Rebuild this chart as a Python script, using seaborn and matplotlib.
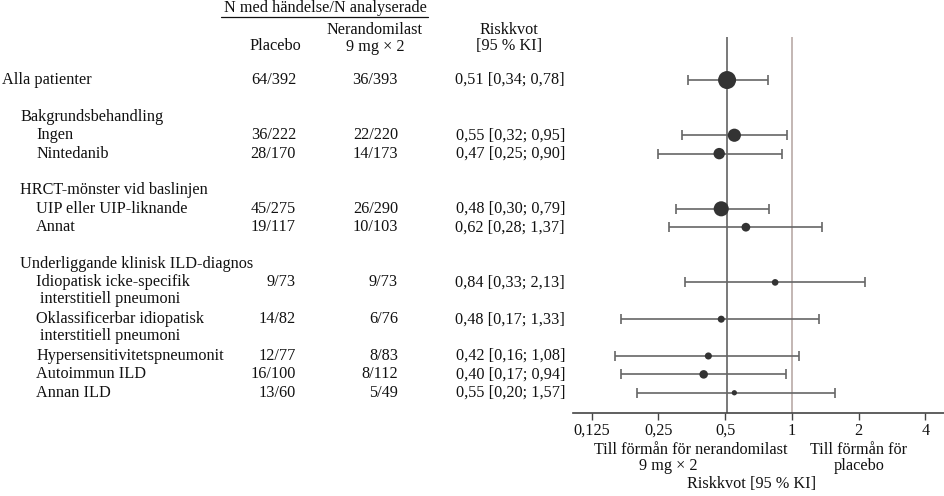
import numpy as np
import pandas as pd
import seaborn as sns
import matplotlib.pyplot as plt
from matplotlib.lines import Line2D
from matplotlib.transforms import blended_transform_factory

# rows of the forest plot (row index = vertical slot, top to bottom)
labels = ["Alla patienter",
          "Bakgrundsbehandling", "Ingen", "Nintedanib",
          "HRCT-mönster vid baslinjen", "UIP eller UIP-liknande", "Annat",
          "Underliggande klinisk ILD-diagnos",
          "Idiopatisk icke-specifik", "Oklassificerbar idiopatisk",
          "Hypersensitivitetspneumonit", "Autoimmun ILD", "Annan ILD"]
label_rows = [0, 2, 3, 4, 6, 7, 8, 10, 11, 13, 15, 16, 17]
label_level = [0, 1, 2, 2, 1, 2, 2, 1, 2, 2, 2, 2, 2]
cont_labels = ["interstitiell pneumoni", "interstitiell pneumoni"]
cont_rows = [11.88, 13.9]

est_rows = [0, 3, 4, 7, 8, 11, 13, 15, 16, 17]
placebo = ["64/392", "36/222", "28/170", "45/275", "19/117",
           "9/73", "14/82", "12/77", "16/100", "13/60"]
neran = ["36/393", "22/220", "14/173", "26/290", "10/103",
         "9/73", "6/76", "8/83", "8/112", "5/49"]
hr = [0.51, 0.55, 0.47, 0.48, 0.62, 0.84, 0.48, 0.42, 0.40, 0.55]
lo = [0.34, 0.32, 0.25, 0.30, 0.28, 0.33, 0.17, 0.16, 0.17, 0.20]
hi = [0.78, 0.95, 0.90, 0.79, 1.37, 2.13, 1.33, 1.08, 0.94, 1.57]

ticks = [0.125, 0.25, 0.5, 1, 2, 4]
tick_labels = ["0,125", "0,25", "0,5", "1", "2", "4"]

FONT = ["Liberation Serif", "DejaVu Serif"]
FS = 11.7
TXT = "#111111"


def fmt(v):
    return f"{v:.2f}".replace(".", ",")


# total analysed patients per subgroup drives the marker area
n_total = [int(p.split("/")[1]) + int(n.split("/")[1]) for p, n in zip(placebo, neran)]
df = pd.DataFrame({"row": est_rows, "hr": hr, "lo": lo, "hi": hi, "n": n_total})

sns.set_theme(style="white")
plt.rcParams["font.family"] = FONT
plt.rcParams["font.size"] = FS

W, H = 945, 496
fig = plt.figure(figsize=(W / 100, H / 100), dpi=100)
ax = fig.add_axes([573 / W, 1 - 413 / H, 372 / W, (413 - 37) / H])

ax.set_xscale("log", base=2)
ax.set_xlim(0.103, 4.9)
ax.set_ylim(18.1, -2.34)

ax.axvline(0.51, color="#555555", lw=1.1, zorder=1)
ax.axvline(1, color="#b3a39f", lw=1.1, zorder=1)
ax.errorbar(df["hr"], df["row"], xerr=[df["hr"] - df["lo"], df["hi"] - df["hr"]],
            fmt="none", ecolor="#666666", elinewidth=1.2, capsize=3.6, capthick=1.2, zorder=2)
sns.scatterplot(data=df, x="hr", y="row", size="n", sizes=(14.5, 168),
                color="#333333", edgecolor="none", legend=False, ax=ax, zorder=3)

for s in ["top", "left", "right"]:
    ax.spines[s].set_visible(False)
ax.spines["bottom"].set_color("#444444")
ax.spines["bottom"].set_linewidth(1.2)
ax.set_yticks([])
ax.set_xticks(ticks)
ax.set_xticklabels(tick_labels, fontfamily=FONT, fontsize=FS, color=TXT)
ax.minorticks_off()
ax.tick_params(axis="x", bottom=True, direction="out", length=5, width=1, color="#444444", pad=2)
ax.set_xlabel("")
ax.set_ylabel("")

# table text on the left, x in figure pixels, y in row units
tr = blended_transform_factory(fig.transFigure, ax.transData)
indent = {0: 2, 1: 20, 2: 36}


def rtext(x, r, s, ha="left"):
    ax.text(x / W, r, s, transform=tr, ha=ha, va="center", fontsize=FS,
            fontfamily=FONT, color=TXT, clip_on=False)


for lab, r, lev in zip(labels, label_rows, label_level):
    rtext(indent[lev], r, lab)
for lab, r in zip(cont_labels, cont_rows):
    rtext(40, r, lab)

for r, p, n, h, l, u in zip(est_rows, placebo, neran, hr, lo, hi):
    rtext(296, r, p, ha="right")
    rtext(398, r, n, ha="right")
    rtext(565, r, f"{fmt(h)} [{fmt(l)}; {fmt(u)}]", ha="right")


# column headers and annotations, positions in figure pixels
def ftext(x, y, s):
    fig.text(x / W, 1 - y / H, s, ha="center", va="center", fontsize=FS,
             fontfamily=FONT, color=TXT)


ftext(325, 8, "N med händelse/N analyserade")
fig.add_artist(Line2D([221 / W, 428 / W], [1 - 17 / H, 1 - 17 / H], color=TXT, lw=0.9))
ftext(275, 46, "Placebo")
ftext(375, 30, "Nerandomilast")
ftext(375, 47, "9 mg × 2")
ftext(509, 30, "Riskkvot")
ftext(509, 46, "[95 % KI]")

ftext(691, 449.5, "Till förmån för nerandomilast")
ftext(668, 466.5, "9 mg × 2")
ftext(859, 449.5, "Till förmån för")
ftext(859, 466.5, "placebo")
ftext(752, 484, "Riskkvot [95 % KI]")

fig.savefig("out.png", dpi=100)
